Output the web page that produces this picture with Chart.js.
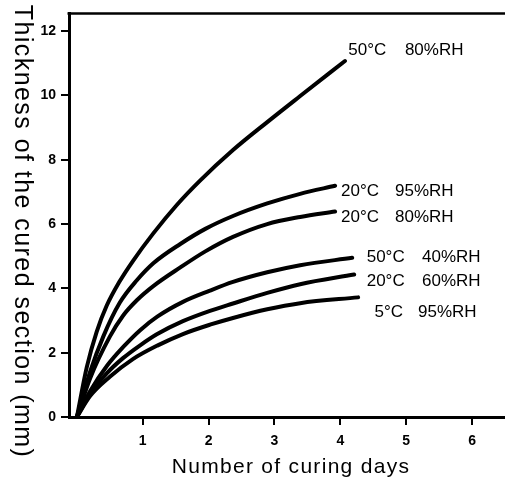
<!DOCTYPE html>
<html><head><meta charset="utf-8">
<script src="https://cdn.jsdelivr.net/npm/chart.js@4/dist/chart.umd.min.js"></script>
<style>html,body{margin:0;padding:0;background:#fff}#wrap{width:505px;height:479px}</style>
</head><body><div id="wrap"><canvas id="c" width="505" height="479"></canvas></div>
<script>
// ---- data ----
const seriesNames = ['50°C 80%RH','20°C 95%RH','20°C 80%RH','50°C 40%RH','20°C 60%RH','5°C 95%RH'];
const days1  = [0, 0.15, 0.30, 0.45, 0.65, 0.85, 1.16, 1.52, 1.87, 2.37, 2.89, 3.39, 4.07];
const thick1 = [0, 1.55, 2.65, 3.45, 4.22, 4.85, 5.71, 6.60, 7.35, 8.30, 9.17, 9.98, 11.07];
const days2  = [0, 0.20, 0.40, 0.65, 0.91, 1.16, 1.57, 1.95, 2.37, 2.89, 3.39, 3.92];
const thick2 = [0, 1.40, 2.50, 3.55, 4.25, 4.78, 5.38, 5.85, 6.25, 6.64, 6.94, 7.19];
const days3  = [0, 0.20, 0.50, 0.70, 0.91, 1.16, 1.57, 1.95, 2.37, 2.89, 3.39, 3.92];
const thick3 = [0, 1.20, 2.50, 3.15, 3.63, 4.07, 4.65, 5.15, 5.60, 6.00, 6.22, 6.39];
const days4  = [0, 0.20, 0.46, 0.70, 0.96, 1.22, 1.61, 2.02, 2.37, 2.89, 3.39, 4.18];
const thick4 = [0, 0.80, 1.60, 2.17, 2.70, 3.12, 3.58, 3.93, 4.20, 4.50, 4.72, 4.95];
const days5  = [0, 0.20, 0.45, 0.70, 0.96, 1.22, 1.61, 2.02, 2.37, 2.89, 3.39, 4.21];
const thick5 = [0, 0.72, 1.35, 1.83, 2.23, 2.58, 2.98, 3.30, 3.53, 3.86, 4.13, 4.43];
const days6  = [0, 0.20, 0.50, 0.85, 1.22, 1.61, 2.02, 2.37, 2.89, 3.39, 4.27];
const thick6 = [0, 0.65, 1.25, 1.80, 2.22, 2.58, 2.87, 3.08, 3.35, 3.54, 3.72];
const xTicks = [1, 2, 3, 4, 5, 6];
const yTicks = [0, 2, 4, 6, 8, 10, 12];
const xTitle = 'Number of curing days';
const yTitle = 'Thickness of the cured section (mm)';
// curve-end annotations (temperature part, humidity part)
const tempLabels = ['50°C', '20°C', '20°C', '50°C', '20°C', '5°C'];
const rhLabels   = ['80%RH', '95%RH', '80%RH', '40%RH', '60%RH', '95%RH'];
const tempLabelDay = [4.12, 4.01, 4.01, 4.40, 4.40, 4.52];
const rhLabelDay   = [4.98, 4.83, 4.83, 5.24, 5.24, 5.18];
const labelThick   = [11.40, 7.02, 6.21, 4.97, 4.22, 3.26];

const allDays = [days1, days2, days3, days4, days5, days6];
const allThick = [thick1, thick2, thick3, thick4, thick5, thick6];

const datasets = seriesNames.map((name, i) => ({
  label: name,
  data: allDays[i].map((d, j) => ({x: d, y: allThick[i][j]})),
  borderColor: '#000',
  backgroundColor: '#000',
  borderWidth: 4,
  pointRadius: 0,
  fill: false,
  cubicInterpolationMode: 'monotone',
  borderCapStyle: 'round',
  borderJoinStyle: 'round'
}));

const FONT = '"Liberation Sans", Arial, Helvetica, sans-serif';

const annotate = {
  id: 'annotate',
  afterDraw(chart) {
    const {ctx, chartArea: a, scales: {x, y}} = chart;
    ctx.save();
    // top frame line
    ctx.strokeStyle = '#000';
    ctx.lineWidth = 2.5;
    ctx.beginPath();
    ctx.moveTo(a.left - 1.5, a.top);
    ctx.lineTo(a.right, a.top);
    ctx.stroke();
    // curve labels
    ctx.fillStyle = '#000';
    ctx.font = '17px ' + FONT;
    ctx.textBaseline = 'middle';
    ctx.textAlign = 'left';
    for (let i = 0; i < tempLabels.length; i++) {
      const py = y.getPixelForValue(labelThick[i]);
      ctx.fillText(tempLabels[i], x.getPixelForValue(tempLabelDay[i]), py);
      ctx.fillText(rhLabels[i], x.getPixelForValue(rhLabelDay[i]), py);
    }
    // x title
    ctx.font = '21px ' + FONT;
    ctx.letterSpacing = '1.3px';
    ctx.textAlign = 'center';
    ctx.textBaseline = 'alphabetic';
    ctx.fillText(xTitle, 291, 473);
    // y title, rotated clockwise (reads top to bottom)
    ctx.font = '25px ' + FONT;
    ctx.letterSpacing = '1.45px';
    ctx.translate(15, 231.5);
    ctx.rotate(Math.PI / 2);
    ctx.fillText(yTitle, 0, 0);
    ctx.restore();
  }
};

new Chart(document.getElementById('c'), {
  type: 'line',
  data: {datasets},
  plugins: [annotate],
  options: {
    responsive: false,
    animation: false,
    events: [],
    layout: {padding: {left: 0, top: 13, right: 0, bottom: 0}},
    plugins: {legend: {display: false}, tooltip: {enabled: false}, title: {display: false}},
    scales: {
      x: {
        type: 'linear',
        min: -0.12,
        max: 6.5,
        afterFit(s) { s.height = 62; },
        afterBuildTicks(s) { s.ticks = xTicks.map(v => ({value: v})); },
        grid: {display: true, drawOnChartArea: false, drawTicks: true, tickLength: 8, color: '#000', lineWidth: 2},
        border: {display: true, color: '#000', width: 3},
        ticks: {color: '#000', padding: 8, maxRotation: 0, font: {family: '"Liberation Sans Narrow", "Liberation Sans", Arial, sans-serif', size: 14, weight: 'bold'}}
      },
      y: {
        type: 'linear',
        min: 0,
        max: 12.55,
        afterFit(s) { s.width = 69; },
        afterBuildTicks(s) { s.ticks = yTicks.map(v => ({value: v})); },
        grid: {display: true, drawOnChartArea: false, drawTicks: true, tickLength: 8, color: '#000', lineWidth: 2},
        border: {display: true, color: '#000', width: 3},
        ticks: {color: '#000', padding: 5, font: {family: '"Liberation Sans Narrow", "Liberation Sans", Arial, sans-serif', size: 14, weight: 'bold'}}
      }
    }
  }
});
</script>
</body></html>
